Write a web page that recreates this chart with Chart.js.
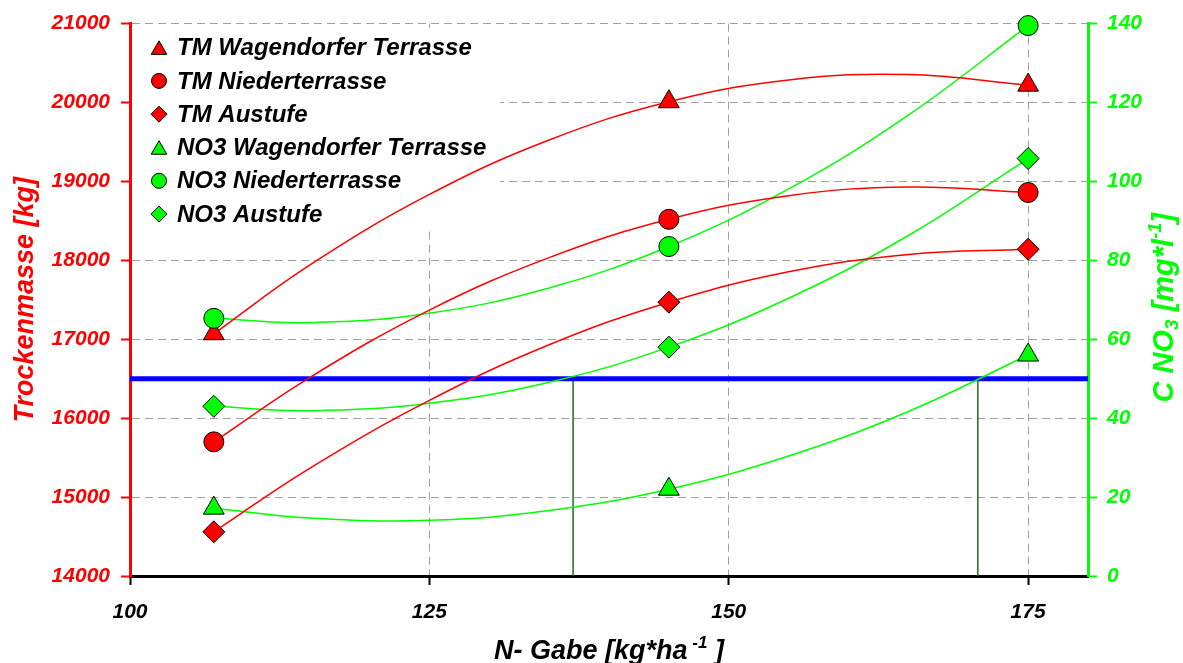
<!DOCTYPE html>
<html>
<head>
<meta charset="utf-8">
<script src="https://cdn.jsdelivr.net/npm/chart.js@4.4.1/dist/chart.umd.min.js"></script>
<style>
  html, body { margin: 0; padding: 0; background: #fff; }
  #wrap { width: 1183px; height: 663px; }
</style>
</head>
<body>
<div id="wrap"><canvas id="grafico"></canvas></div>
<script>
// N-Gabe der Messpunkte [kg/ha]
const gaben = [107, 145, 175];

// Trockenmasse [kg]
const tmWagendorf = [17070, 20010, 20220];
const tmNieder = [15700, 18520, 18860];
const tmAustufe = [14560, 17470, 18140];

// C NO3 [mg/l]
const no3Wagendorf = [17.2, 22.0, 56.0];
const no3Nieder = [65.3, 83.5, 139.5];
const no3Austufe = [43.0, 58.0, 105.8];

// Trendlinien
const trendGaben = [107, 115, 125, 135, 145, 155, 165, 175];
const trendTmWagendorf = [17070, 17940, 18835, 19525, 20010, 20285, 20355, 20220];
const trendTmNieder = [15700, 16515, 17370, 18035, 18520, 18820, 18930, 18860];
const trendTmAustufe = [14560, 15365, 16225, 16930, 17470, 17855, 18075, 18140];
const trendNo3Wagendorf = [17.2, 14.7, 14.1, 16.6, 22.0, 30.4, 41.7, 56.0];
const trendNo3Nieder = [65.3, 64.2, 66.6, 73.0, 83.5, 98.1, 116.8, 139.5];
const trendNo3Austufe = [43.0, 41.9, 43.8, 49.1, 58.0, 70.4, 86.3, 105.8];

// Grenzwert NO3 und Schnittpunkte mit den Trendlinien
const grenzwert = 50;
const schnittGaben = [137, 170.8];

// Achsen
const xBereich = [100, 180];
const xTicks = [100, 125, 150, 175];
const tmBereich = [14000, 21000];
const no3Bereich = [0, 140];

const serienNamen = [
    'TM Wagendorfer Terrasse', 'TM Niederterrasse', 'TM Austufe',
    'NO3 Wagendorfer Terrasse', 'NO3 Niederterrasse', 'NO3 Austufe'
];

const ROT = '#ff0000';
const GRUEN = '#00ff00';
const SCHRIFT = '"Liberation Sans", Arial, sans-serif';

function punkte(xs, ys) {
    return xs.map((x, i) => ({ x: x, y: ys[i] }));
}

function messreihe(name, werte, farbe, stil, radius, achse, reihenfolge) {
    return {
        label: name,
        data: punkte(gaben, werte),
        yAxisID: achse,
        showLine: false,
        pointStyle: stil,
        pointRadius: radius,
        pointBackgroundColor: farbe,
        pointBorderColor: '#000',
        pointBorderWidth: 1,
        backgroundColor: farbe,
        borderColor: '#000',
        clip: false,
        order: reihenfolge,
        legende: true
    };
}

function trend(werte, farbe, achse) {
    return {
        label: '',
        data: punkte(trendGaben, werte),
        yAxisID: achse,
        showLine: true,
        borderColor: farbe,
        borderWidth: 1.5,
        pointRadius: 0,
        tension: 0.4,
        order: 2
    };
}

const datasets = [
    messreihe(serienNamen[0], tmWagendorf, ROT, 'triangle', 12, 'y', 1),
    messreihe(serienNamen[1], tmNieder, ROT, 'circle', 10, 'y', 1),
    messreihe(serienNamen[2], tmAustufe, ROT, 'rectRot', 11, 'y', 1),
    messreihe(serienNamen[3], no3Wagendorf, GRUEN, 'triangle', 12, 'y1', 0),
    messreihe(serienNamen[4], no3Nieder, GRUEN, 'circle', 10, 'y1', 0),
    messreihe(serienNamen[5], no3Austufe, GRUEN, 'rectRot', 11, 'y1', 0),
    trend(trendTmWagendorf, ROT, 'y'),
    trend(trendTmNieder, ROT, 'y'),
    trend(trendTmAustufe, ROT, 'y'),
    trend(trendNo3Wagendorf, GRUEN, 'y1'),
    trend(trendNo3Nieder, GRUEN, 'y1'),
    trend(trendNo3Austufe, GRUEN, 'y1'),
    {
        label: '',
        data: punkte(xBereich, [grenzwert, grenzwert]),
        yAxisID: 'y1',
        showLine: true,
        borderColor: '#0000ff',
        borderWidth: 5,
        pointRadius: 0,
        order: 3
    }
];

schnittGaben.forEach((g) => {
    datasets.push({
        label: '',
        data: punkte([g, g], [no3Bereich[0], grenzwert]),
        yAxisID: 'y1',
        showLine: true,
        borderColor: '#1f6b1f',
        borderWidth: 1.5,
        pointRadius: 0,
        order: 3
    });
});

// Legende im Diagramm, mit weissem Hintergrund
const legendePlugin = {
    id: 'legende',
    beforeDatasetsDraw(chart) {
        const { ctx, chartArea } = chart;
        ctx.save();
        ctx.fillStyle = '#fff';
        ctx.fillRect(chartArea.left + 2, chartArea.top + 4, 368, 201);
        ctx.restore();
    },
    afterDatasetsDraw(chart) {
        const { ctx, chartArea } = chart;
        const eintraege = chart.data.datasets.filter((d) => d.legende);
        const groesse = { triangle: 9, circle: 7.5, rectRot: 8 };
        ctx.save();
        ctx.font = 'italic bold 24px ' + SCHRIFT;
        ctx.textBaseline = 'middle';
        eintraege.forEach((d, i) => {
            const y = chartArea.top + 24 + i * 33.3;
            const x = chartArea.left + 29;
            const r = groesse[d.pointStyle];
            ctx.fillStyle = d.pointBackgroundColor;
            ctx.strokeStyle = '#000';
            ctx.lineWidth = 1;
            const dy = d.pointStyle === 'triangle' ? r / 4 : 0;
            Chart.helpers.drawPoint(ctx, { pointStyle: d.pointStyle, radius: r, rotation: 0, borderWidth: 1 }, x, y + dy);
            ctx.fillStyle = '#000';
            ctx.fillText(d.label, x + 18, y + 1);
        });
        ctx.restore();
    }
};

// Achsentitel mit Hoch- und Tiefstellung
function textTeile(ctx, teile, cx, cy, drehung, farbe) {
    ctx.save();
    ctx.translate(cx, cy);
    ctx.rotate(drehung);
    ctx.fillStyle = farbe;
    ctx.textBaseline = 'alphabetic';
    let breite = 0;
    teile.forEach((p) => {
        ctx.font = 'italic bold ' + p.g + 'px ' + SCHRIFT;
        breite += ctx.measureText(p.t).width;
    });
    let x = -breite / 2;
    teile.forEach((p) => {
        ctx.font = 'italic bold ' + p.g + 'px ' + SCHRIFT;
        ctx.fillText(p.t, x, p.dy || 0);
        x += ctx.measureText(p.t).width;
    });
    ctx.restore();
}

const titelPlugin = {
    id: 'titel',
    afterDraw(chart) {
        const { ctx, chartArea } = chart;
        const mitte = (chartArea.top + chartArea.bottom) / 2;
        textTeile(ctx, [{ t: 'Trockenmasse [kg]', g: 27 }], 33, mitte, -Math.PI / 2, ROT);
        textTeile(ctx, [
            { t: 'C NO', g: 29 },
            { t: '3', g: 19, dy: 5 },
            { t: ' [mg*l', g: 29 },
            { t: '-1', g: 18, dy: -12 },
            { t: ']', g: 29 }
        ], 1173, mitte + 8, -Math.PI / 2, GRUEN);
        textTeile(ctx, [
            { t: 'N- Gabe [kg*ha', g: 27 },
            { t: ' -1', g: 17, dy: -11 },
            { t: ' ]', g: 27 }
        ], (chartArea.left + chartArea.right) / 2, 659, 0, '#000');
    }
};

const tickSchrift = { family: SCHRIFT, size: 21, style: 'italic', weight: 'bold' };

new Chart(document.getElementById('grafico'), {
    type: 'scatter',
    data: { datasets: datasets },
    options: {
        responsive: true,
        maintainAspectRatio: false,
        animation: false,
        layout: { padding: { top: 23, left: 0, right: 0, bottom: 0 } },
        plugins: {
            legend: { display: false },
            tooltip: { enabled: false }
        },
        scales: {
            x: {
                type: 'linear',
                min: xBereich[0],
                max: xBereich[1],
                afterBuildTicks: (s) => { s.ticks = xTicks.map((v) => ({ value: v })); },
                afterFit: (s) => { s.height = 87; },
                grid: {
                    color: (c) => (c.tick && c.tick.value === xBereich[0] ? 'rgba(0,0,0,0)' : '#a0a0a0'),
                    lineWidth: 1,
                    tickColor: '#000',
                    tickWidth: 2,
                    tickLength: 9
                },
                border: { color: '#000', width: 3, dash: [8, 5] },
                ticks: { color: '#000', font: tickSchrift, padding: 15, maxRotation: 0, callback: (v) => String(v) }
            },
            y: {
                position: 'left',
                min: tmBereich[0],
                max: tmBereich[1],
                afterFit: (s) => { s.width = 130; },
                grid: {
                    color: (c) => (c.tick && c.tick.value === tmBereich[0] ? 'rgba(0,0,0,0)' : '#a0a0a0'),
                    lineWidth: 1,
                    tickColor: ROT,
                    tickWidth: 2,
                    tickLength: 9
                },
                border: { color: ROT, width: 3, dash: [8, 5] },
                ticks: { color: ROT, font: tickSchrift, padding: 11, stepSize: 1000, callback: (v) => String(v) }
            },
            y1: {
                position: 'right',
                min: no3Bereich[0],
                max: no3Bereich[1],
                afterFit: (s) => { s.width = 95; },
                grid: {
                    drawOnChartArea: false,
                    tickColor: GRUEN,
                    tickWidth: 2,
                    tickLength: 9
                },
                border: { color: GRUEN, width: 3 },
                ticks: { color: GRUEN, font: tickSchrift, padding: 10, stepSize: 20, callback: (v) => String(v) }
            }
        }
    },
    plugins: [legendePlugin, titelPlugin]
});
</script>
</body>
</html>
